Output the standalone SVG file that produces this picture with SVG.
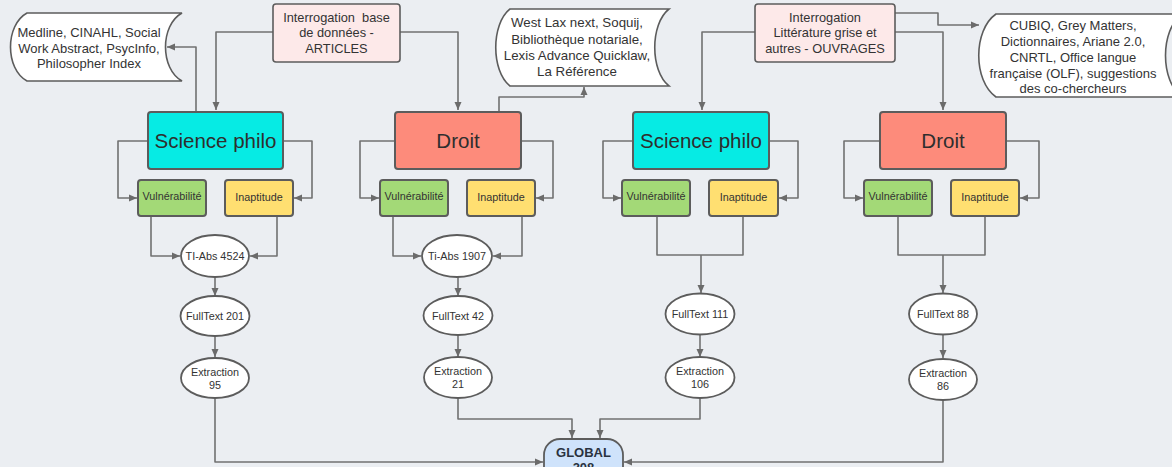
<svg xmlns="http://www.w3.org/2000/svg" width="1172" height="467" viewBox="0 0 1172 467">
<defs>
<marker id="arr" markerUnits="userSpaceOnUse" markerWidth="9" markerHeight="8" refX="8" refY="4" orient="auto">
<path d="M0,0.5 L8,4 L0,7.5 z" fill="#6b6b6b"/>
</marker>
<style>
.bg{fill:#ebeef2}
.c{fill:none;stroke:#717171;stroke-width:1.6;stroke-linejoin:round}
.a{marker-end:url(#arr)}
.tape{fill:#ffffff;stroke:#5c5c5c;stroke-width:1.6}
.q{fill:#fde9e9;stroke:#5c5c5c;stroke-width:1.6}
.sci{fill:#06ebe4;stroke:#5c5c5c;stroke-width:2}
.dr{fill:#fd8b7b;stroke:#5c5c5c;stroke-width:2}
.vu{fill:#a3d977;stroke:#5c5c5c;stroke-width:2}
.in{fill:#ffdf71;stroke:#5c5c5c;stroke-width:2}
.el{fill:#ffffff;stroke:#5c5c5c;stroke-width:1.8}
.gl{fill:#cfe3fb;stroke:#5c5c5c;stroke-width:1.8}
text{font-family:"Liberation Sans",Arial,sans-serif;fill:#333333;text-anchor:middle}
.t13{font-size:13px}
.t13r{font-size:13.3px}
.t13b{font-size:12.8px;white-space:pre}
.big{font-size:20.5px;fill:#2e2e2e}
.sm{font-size:10.8px}
.gt{font-size:13px;font-weight:bold;fill:#2a3340}
</style>
</defs>
<rect class="bg" x="0" y="0" width="1172" height="467"/>

<g id="connectors">
<path class="c a" d="M196,111 V47 H167"/>
<path class="c a" d="M273,32 H216 V110"/>
<path class="c a" d="M400,32 H458 V110"/>
<path class="c a" d="M499,111 V97 H584 V87"/>
<path class="c a" d="M755,32 H702 V110"/>
<path class="c a" d="M895,32 H943 V110"/>
<path class="c a" d="M895,13 H938 V25 H979"/>

<path class="c a" d="M148,141 H118 V198 H137"/>
<path class="c a" d="M283,141 H312 V198 H294"/>
<path class="c a" d="M395,141 H360 V198 H379"/>
<path class="c a" d="M521,141 H553 V198 H536"/>
<path class="c a" d="M633,141 H603 V198 H621"/>
<path class="c a" d="M769,141 H798 V198 H779"/>
<path class="c a" d="M880,141 H844 V198 H863"/>
<path class="c a" d="M1006,141 H1039 V198 H1020"/>

<path class="c a" d="M151,216 V256 H180"/>
<path class="c a" d="M277,216 V256 H250"/>
<path class="c a" d="M393,216 V256 H421"/>
<path class="c a" d="M522,216 V256 H493"/>
<path class="c" d="M657,216 V255 H743 V216"/>
<path class="c a" d="M701,255 V293"/>
<path class="c" d="M898,216 V255 H985 V216"/>
<path class="c a" d="M943,255 V293"/>

<path class="c a" d="M215,277 V296"/>
<path class="c a" d="M458,277 V296"/>
<path class="c a" d="M215,336 V357"/>
<path class="c a" d="M458,335 V357"/>
<path class="c a" d="M700,334 V357"/>
<path class="c a" d="M943,334 V358"/>

<path class="c a" d="M215,398 V462 H543"/>
<path class="c a" d="M458,398 V419 H572 V438"/>
<path class="c a" d="M700,398 V419 H600 V438"/>
<path class="c a" d="M943,400 V462 H624"/>
</g>

<g id="tape1">
<path class="tape" d="M27,13 H182 C160,25 160,69 182,81 H27 C5,69 5,25 27,13 Z"/>
<text class="t13" x="89" y="37">Medline, CINAHL, Social</text>
<text class="t13" x="89" y="53">Work Abstract, PsycInfo,</text>
<text class="t13" x="89" y="68">Philosopher Index</text>
</g>

<g id="q1">
<rect class="q" x="273" y="4" width="127" height="58" rx="3"/>
<text class="t13b" x="336.5" y="21.5" xml:space="preserve">Interrogation  base</text>
<text class="t13b" x="336.5" y="37">de données -</text>
<text class="t13b" x="336.5" y="52.5">ARTICLES</text>
</g>

<g id="tape2">
<path class="tape" d="M510,9 H669 C650,24 650,71 669,86 H510 C491,71 491,24 510,9 Z"/>
<text class="t13r" x="577" y="27">West Lax next, Soquij,</text>
<text class="t13r" x="577" y="43.5">Bibliothèque notariale,</text>
<text class="t13r" x="577" y="60">Lexis Advance Quicklaw,</text>
<text class="t13r" x="577" y="76">La Référence</text>
</g>

<g id="q2">
<rect class="q" x="755" y="4" width="140" height="58" rx="3"/>
<text class="t13b" x="825" y="21.5">Interrogation</text>
<text class="t13b" x="825" y="37">Littérature grise et</text>
<text class="t13b" x="825" y="52.5">autres - OUVRAGES</text>
</g>

<g id="tape3">
<path class="tape" d="M996,14 H1182 C1160,30 1160,81 1182,97 H996 C973,81 973,30 996,14 Z"/>
<text class="t13" x="1073" y="30">CUBIQ, Grey Matters,</text>
<text class="t13" x="1073" y="46">Dictionnaires, Ariane 2.0,</text>
<text class="t13" x="1073" y="62">CNRTL, Office langue</text>
<text class="t13" x="1073" y="77.5">française (OLF), suggestions</text>
<text class="t13" x="1073" y="93">des co-chercheurs</text>
</g>

<g id="sci1">
<rect class="sci" x="148" y="112" width="135" height="57" rx="3"/>
<text class="big" x="215.5" y="147.5">Science philo</text>
</g>
<g id="droit1">
<rect class="dr" x="395" y="112" width="126" height="57" rx="3"/>
<text class="big" x="458" y="147.5">Droit</text>
</g>
<g id="sci2">
<rect class="sci" x="633" y="112" width="136" height="57" rx="3"/>
<text class="big" x="701" y="147.5">Science philo</text>
</g>
<g id="droit2">
<rect class="dr" x="880" y="112" width="126" height="57" rx="3"/>
<text class="big" x="943" y="147.5">Droit</text>
</g>

<g id="vu1"><rect class="vu" x="138" y="180" width="68" height="36" rx="3"/><text class="sm" x="172" y="200">Vulnérabilité</text></g>
<g id="in1"><rect class="in" x="225" y="180" width="68" height="36" rx="3"/><text class="sm" x="259" y="201">Inaptitude</text></g>
<g id="vu2"><rect class="vu" x="380" y="180" width="68" height="36" rx="3"/><text class="sm" x="414" y="200">Vulnérabilité</text></g>
<g id="in2"><rect class="in" x="467" y="180" width="68" height="36" rx="3"/><text class="sm" x="501" y="201">Inaptitude</text></g>
<g id="vu3"><rect class="vu" x="622" y="180" width="68" height="36" rx="3"/><text class="sm" x="656" y="200">Vulnérabilité</text></g>
<g id="in3"><rect class="in" x="709" y="180" width="69" height="36" rx="3"/><text class="sm" x="743.5" y="201">Inaptitude</text></g>
<g id="vu4"><rect class="vu" x="864" y="180" width="68" height="36" rx="3"/><text class="sm" x="898" y="200">Vulnérabilité</text></g>
<g id="in4"><rect class="in" x="951" y="180" width="68" height="36" rx="3"/><text class="sm" x="985" y="201">Inaptitude</text></g>

<g id="tiabs1"><ellipse class="el" cx="215" cy="256" rx="34" ry="21"/><text class="sm" x="215" y="260">TI-Abs 4524</text></g>
<g id="tiabs2"><ellipse class="el" cx="457" cy="256" rx="35" ry="21"/><text class="sm" x="457" y="260">Ti-Abs 1907</text></g>

<g id="ft1"><ellipse class="el" cx="215" cy="316" rx="34.5" ry="20"/><text class="sm" x="215" y="320">FullText 201</text></g>
<g id="ft2"><ellipse class="el" cx="458" cy="315.5" rx="34.5" ry="19.5"/><text class="sm" x="458" y="319.5">FullText 42</text></g>
<g id="ft3"><ellipse class="el" cx="700" cy="314" rx="34.5" ry="20.5"/><text class="sm" x="700" y="318">FullText 111</text></g>
<g id="ft4"><ellipse class="el" cx="943" cy="314" rx="34" ry="20.5"/><text class="sm" x="943" y="318">FullText 88</text></g>

<g id="ex1"><ellipse class="el" cx="215" cy="378" rx="34" ry="20"/><text class="sm" x="215" y="376">Extraction</text><text class="sm" x="215" y="389">95</text></g>
<g id="ex2"><ellipse class="el" cx="458" cy="377.5" rx="34" ry="20.5"/><text class="sm" x="458" y="375">Extraction</text><text class="sm" x="458" y="388">21</text></g>
<g id="ex3"><ellipse class="el" cx="700" cy="377.5" rx="34.5" ry="20.5"/><text class="sm" x="700" y="375">Extraction</text><text class="sm" x="700" y="388">106</text></g>
<g id="ex4"><ellipse class="el" cx="943" cy="379.5" rx="34" ry="20.5"/><text class="sm" x="943" y="377">Extraction</text><text class="sm" x="943" y="390">86</text></g>

<g id="global">
<rect class="gl" x="544" y="439" width="79" height="50" rx="16"/>
<text class="gt" x="583.5" y="457">GLOBAL</text>
<text class="gt" x="583.5" y="472">208</text>
</g>
</svg>
